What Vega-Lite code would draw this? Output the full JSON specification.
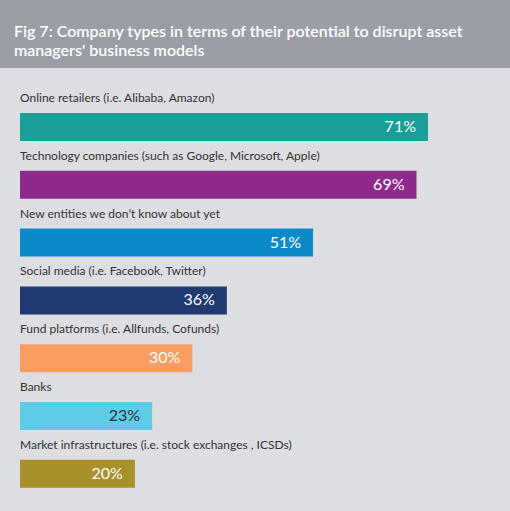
{
  "$schema": "https://vega.github.io/schema/vega-lite/v6.json",
  "width": 510,
  "height": 443,
  "autosize": "none",
  "padding": {"top": 68, "left": 0, "right": 0, "bottom": 0},
  "background": "#9b9ea6",
  "title": {
    "text": ["Fig 7: Company types in terms of their potential to disrupt asset", "managers' business models"],
    "anchor": "start",
    "frame": "group",
    "dx": 14,
    "offset": 9,
    "font": "Lato",
    "fontSize": 16,
    "fontWeight": 600,
    "lineHeight": 19,
    "color": "#ffffff"
  },
  "config": {
    "view": {"fill": "#dddee2", "stroke": null},
    "font": "Lato"
  },
  "data": {
    "values": [
      {"name": "Online retailers (i.e. Alibaba, Amazon)", "value": 71},
      {"name": "Technology companies (such as Google, Microsoft, Apple)", "value": 69},
      {"name": "New entities we don’t know about yet", "value": 51},
      {"name": "Social media (i.e. Facebook, Twitter)", "value": 36},
      {"name": "Fund platforms (i.e. Allfunds, Cofunds)", "value": 30},
      {"name": "Banks", "value": 23},
      {"name": "Market infrastructures (i.e. stock exchanges , ICSDs)", "value": 20}
    ]
  },
  "transform": [{"calculate": "datum.value + '%'", "as": "label"}],
  "encoding": {
    "y": {
      "field": "name",
      "type": "nominal",
      "sort": null,
      "axis": null,
      "scale": {"paddingInner": 0.516, "paddingOuter": 0.59, "align": 0.66}
    }
  },
  "layer": [
    {
      "mark": {"type": "bar"},
      "encoding": {
        "x": {
          "field": "value",
          "type": "quantitative",
          "axis": null,
          "scale": {"domain": [-3.48, 85.27], "nice": false, "zero": false}
        },
        "color": {
          "field": "name",
          "type": "nominal",
          "sort": null,
          "legend": null,
          "scale": {
            "range": ["#1a9e98", "#8e2a8c", "#0a8ac8", "#213a72", "#f99c62", "#5ecce7", "#a8912a"]
          }
        }
      }
    },
    {
      "mark": {"type": "text", "align": "right", "baseline": "middle", "dx": -12, "fontSize": 16},
      "encoding": {
        "x": {"field": "value", "type": "quantitative"},
        "text": {"field": "label"},
        "color": {
          "condition": {"test": "datum.name === 'Banks'", "value": "#2b2f38"},
          "value": "#ffffff"
        }
      }
    },
    {
      "mark": {"type": "text", "align": "left", "baseline": "middle", "dy": -29, "fontSize": 12, "color": "#333333"},
      "encoding": {
        "x": {"datum": 0, "type": "quantitative"},
        "text": {"field": "name"}
      }
    }
  ]
}
